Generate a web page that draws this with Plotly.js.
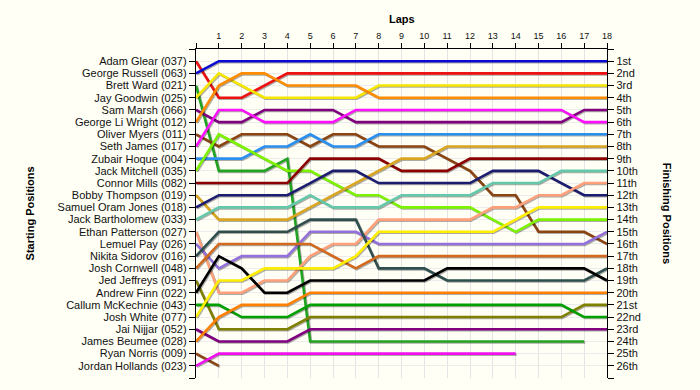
<!DOCTYPE html>
<html>
<head>
<meta charset="utf-8">
<script src="https://cdn.plot.ly/plotly-3.0.1.min.js"></script>
<style>
  html, body { margin: 0; padding: 0; background: #fffff5; }
  #chart { width: 700px; height: 390px; }
  .scatterlayer .trace path.js-line { filter: drop-shadow(1.5px 1.5px 0.4px rgba(0,0,0,0.32)); }
</style>
</head>
<body>
<div id="chart"></div>
<script>
// ---- data ----
const laps = [0,1,2,3,4,5,6,7,8,9,10,11,12,13,14,15,16,17,18];

const drivers = [
  "Adam Glear (037)", "George Russell (063)", "Brett Ward (021)", "Jay Goodwin (025)",
  "Sam Marsh (066)", "George Li Wright (012)", "Oliver Myers (011)", "Seth James (017)",
  "Zubair Hoque (004)", "Jack Mitchell (035)", "Connor Mills (082)", "Bobby Thompson (019)",
  "Samuel Oram Jones (018)", "Jack Bartholomew (033)", "Ethan Patterson (027)", "Lemuel Pay (026)",
  "Nikita Sidorov (016)", "Josh Cornwell (048)", "Jed Jeffreys (091)", "Andrew Finn (022)",
  "Callum McKechnie (043)", "Josh White (077)", "Jai Nijjar (052)", "James Beumee (028)",
  "Ryan Norris (009)", "Jordan Hollands (023)"
];

const finishLabels = [
  "1st","2nd","3rd","4th","5th","6th","7th","8th","9th","10th","11th","12th","13th",
  "14th","15th","16th","17th","18th","19th","20th","21st","22nd","23rd","24th","25th","26th"
];

// position of each driver at the end of each lap (lap 0 = grid)
const posGlear       = [1,4,4,3,2,2,2,2,2,2,2,2,2,2,2,2,2,2,2];
const posRussell     = [2,1,1,1,1,1,1,1,1,1,1,1,1,1,1,1,1,1,1];
const posWard        = [3,10,10,10,9,24,24,24,24,24,24,24,24,24,24,24,24,24,null];
const posGoodwin     = [4,2,3,4,4,4,4,4,3,3,3,3,3,3,3,3,3,3,3];
const posMarsh       = [5,6,6,5,5,5,5,6,6,6,6,6,6,6,6,6,6,5,5];
const posLiWright    = [6,3,2,2,3,3,3,3,4,4,4,4,4,4,4,4,4,4,4];
const posMyers       = [7,8,7,7,7,8,7,7,8,8,8,9,10,12,12,15,15,15,16];
const posJames       = [8,5,5,6,6,6,6,5,5,5,5,5,5,5,5,5,5,6,6];
const posHoque       = [9,9,9,8,8,7,8,8,7,7,7,7,7,7,7,7,7,7,7];
const posMitchell    = [10,7,8,9,10,10,11,12,12,13,13,13,13,14,15,14,14,14,14];
const posMills       = [11,11,11,11,11,9,9,9,9,10,10,10,9,9,9,9,9,9,9];
const posThompson    = [12,14,14,14,14,13,12,11,10,9,9,8,8,8,8,8,8,8,8];
const posOramJones   = [13,12,12,12,12,11,10,10,11,11,11,11,11,10,10,10,11,12,12];
const posBartholomew = [14,13,13,13,13,12,13,13,13,12,12,12,12,11,11,11,10,10,10];
const posPatterson   = [15,20,20,19,19,17,16,16,14,14,14,14,14,13,13,12,12,11,11];
const posPay         = [16,18,17,17,17,15,15,15,16,16,16,16,16,16,16,16,16,16,15];
const posSidorov     = [17,15,15,15,15,14,14,14,18,18,18,19,19,19,19,19,19,19,18];
const posCornwell    = [18,16,16,16,16,16,17,18,17,17,17,17,17,17,17,17,17,17,17];
const posJeffreys    = [19,23,23,23,23,22,22,22,22,22,22,22,22,22,22,22,22,21,21];
const posFinn        = [20,17,18,20,20,19,19,19,19,19,19,18,18,18,18,18,18,18,19];
const posMcKechnie   = [21,21,22,22,22,21,21,21,21,21,21,21,21,21,21,21,21,22,22];
const posWhite       = [22,19,19,18,18,18,18,17,15,15,15,15,15,15,14,13,13,13,13];
const posNijjar      = [23,24,24,24,24,23,23,23,23,23,23,23,23,23,23,23,23,23,23];
const posBeumee      = [24,22,21,21,21,20,20,20,20,20,20,20,20,20,20,20,20,20,20];
const posNorris      = [25,26,null,null,null,null,null,null,null,null,null,null,null,null,null,null,null,null,null];
const posHollands    = [26,25,25,25,25,25,25,25,25,25,25,25,25,25,25,null,null,null,null];

const series = [
  posGlear, posRussell, posWard, posGoodwin, posMarsh, posLiWright, posMyers, posJames,
  posHoque, posMitchell, posMills, posThompson, posOramJones, posBartholomew, posPatterson, posPay,
  posSidorov, posCornwell, posJeffreys, posFinn, posMcKechnie, posWhite, posNijjar, posBeumee,
  posNorris, posHollands
];

// ---- styles ----
const colors = [
  "#ee1111", "#0a0ad2", "#22a322", "#f5e600", "#800080", "#ff8c00", "#8b4513", "#ff11ff",
  "#2b8ff0", "#7cf200", "#8b0000", "#daa520", "#1c1c70", "#66c8aa", "#ffa07a", "#9370db",
  "#2f4f4f", "#d2691e", "#808000", "#000000", "#00a000", "#ffee00", "#800080", "#ff8000",
  "#8b4513", "#ee11ee"
];

const traces = series.map((ys, i) => ({
  x: laps, y: ys, type: "scatter", mode: "lines",
  line: { color: colors[i], width: 2.6 },
  name: drivers[i], hoverinfo: "name", connectgaps: false
}));
traces.push({ x: [], y: [], type: "scatter", mode: "lines", yaxis: "y2", showlegend: false, hoverinfo: "skip" });

const rowVals = [];
for (let i = 0; i <= drivers.length + 1; i++) rowVals.push(i);
const leftText = [""].concat(drivers, [""]);
const rightText = [""].concat(finishLabels, [""]);
const lapText = laps.map(l => l === 0 ? "" : String(l));

const font = "Liberation Sans, Arial, sans-serif";
const bg = "#fffff5";

const layout = {
  width: 700, height: 390,
  paper_bgcolor: bg, plot_bgcolor: bg,
  margin: { l: 196, r: 93, t: 49, b: 12 },
  showlegend: false,
  font: { family: font, size: 11, color: "#111" },
  xaxis: {
    side: "top", range: [0, 18], tickvals: laps, ticktext: lapText,
    ticks: "outside", ticklen: 5, tickcolor: "#000", tickwidth: 1,
    tickfont: { family: font, size: 9, color: "#111" },
    showline: true, linecolor: "#000", linewidth: 1.2,
    showgrid: true, gridcolor: "#e4e4e4", gridwidth: 1, zeroline: false, mirror: false
  },
  yaxis: {
    range: [27, 0], tickvals: rowVals, ticktext: leftText,
    ticks: "outside", ticklen: 6, tickcolor: "#000", tickwidth: 1,
    tickfont: { family: font, size: 11, color: "#111" },
    showline: true, linecolor: "#000", linewidth: 1.2,
    showgrid: true, gridcolor: "#ececec", zeroline: false
  },
  yaxis2: {
    overlaying: "y", side: "right", range: [27, 0], tickvals: rowVals, ticktext: rightText,
    ticks: "outside", ticklen: 6, tickcolor: "#000", tickwidth: 1,
    tickfont: { family: font, size: 11, color: "#111" },
    showline: true, linecolor: "#000", linewidth: 1.2,
    showgrid: false, zeroline: false
  },
  annotations: [
    { text: "<b>Laps</b>", xref: "paper", yref: "paper", x: 0.5, y: 1.091,
      xanchor: "center", yanchor: "middle",
      showarrow: false, font: { family: font, size: 11, color: "#000" } },
    { text: "<b>Starting Positions</b>", xref: "paper", yref: "paper", x: -0.404, y: 0.5,
      xanchor: "center", yanchor: "middle",
      textangle: -90, showarrow: false, font: { family: font, size: 11, color: "#000" } },
    { text: "<b>Finishing Positions</b>", xref: "paper", yref: "paper", x: 1.148, y: 0.5,
      xanchor: "center", yanchor: "middle",
      textangle: 90, showarrow: false, font: { family: font, size: 11, color: "#000" } }
  ]
};

Plotly.newPlot("chart", traces, layout, { staticPlot: true, displayModeBar: false });
</script>
</body>
</html>
